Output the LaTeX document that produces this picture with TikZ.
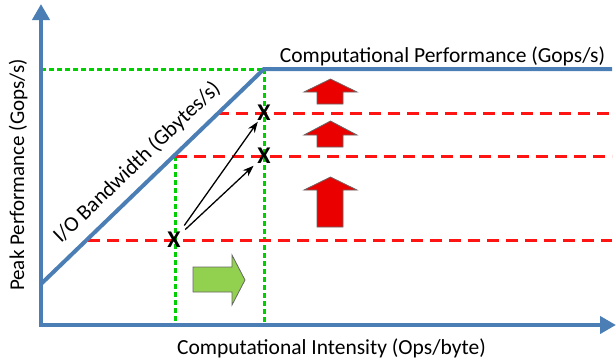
\documentclass[tikz,border=0pt]{standalone}
\usepackage{fontspec}
\setmainfont{Carlito}
\usetikzlibrary{arrows.meta}
\definecolor{axisblue}{RGB}{74,126,180}
\definecolor{dgreen}{RGB}{0,208,0}
\definecolor{dred}{RGB}{255,20,20}
\definecolor{bred}{RGB}{235,0,0}
\definecolor{lgreen}{RGB}{146,208,80}
\begin{document}
\begin{tikzpicture}[x=1pt,y=-1pt,
  axis/.style={draw=axisblue,line width=4pt,line join=miter},
  greendash/.style={draw=dgreen,line width=3pt,dash pattern=on 5pt off 3pt},
  reddash/.style={draw=dred,line width=3pt,dash pattern=on 12pt off 7pt},
  lbl/.style={font=\fontsize{21.5}{24}\selectfont,inner sep=0pt},
  xmark/.style={font=\bfseries\fontsize{24}{24}\selectfont,inner sep=0pt},
  ptr/.style={draw=black,line width=1.3pt,-{Stealth[length=11pt,width=8pt]}},
  uparrow/.style={fill=bred,draw=black!60,line width=0.8pt},
  rightarrow/.style={fill=lgreen,draw=black!60,line width=0.8pt}]
\useasboundingbox (0,0) rectangle (616,362);
% named points
\coordinate (ytop) at (41,4);
\coordinate (O) at (41,325);
\coordinate (xend) at (616,325);
\coordinate (roofstart) at (41,284);
\coordinate (ridge) at (264,69);
\coordinate (roofend) at (612,69);
\coordinate (gl) at (41,69);
\coordinate (gr) at (264,325);
\coordinate (g2top) at (175,156);
\coordinate (g2bot) at (175,325);
\coordinate (r1a) at (217,113);
\coordinate (r1b) at (612,113);
\coordinate (r2a) at (175,156);
\coordinate (r2b) at (612,156);
\coordinate (r3a) at (88,240);
\coordinate (r3b) at (612,240);
% dashed guides
\draw[greendash] (gl) -- (ridge);
\draw[greendash] (ridge) -- (gr);
\draw[greendash] (g2top) -- (g2bot);
\draw[reddash] (r1a) -- (r1b);
\draw[reddash] (r2a) -- (r2b);
\draw[reddash] (r3a) -- (r3b);
% axes
\draw[axis,{Triangle[length=16pt,width=17pt]}-{Triangle[length=16pt,width=17pt]}] (ytop) -- (O) -- (xend);
% roofline
\draw[axis] (roofstart) -- (ridge) -- (roofend);
% labels
\node[lbl,anchor=base] (toplbl) at (442.5,62) {Computational Performance (Gops/s)};
\node[lbl,anchor=base] (xlbl) at (331.5,354) {Computational Intensity (Ops/byte)};
\node[lbl,font=\fontsize{21}{24}\selectfont,anchor=base,rotate=90] (ylbl) at (24,175) {Peak Performance (Gops/s)};
\node[lbl,anchor=base west,rotate=43.9] (bwlbl) at (61,244) {I/O Bandwidth (Gbytes/s)};
% X marks
\node[xmark] (x1) at (174,240) {X};
\node[xmark] (x2) at (264,113) {X};
\node[xmark] (x3) at (264,156) {X};
\draw[ptr,shorten <=8pt,shorten >=1pt] (x1) -- (x2);
\draw[ptr,shorten <=6pt,shorten >=5pt] (x1) -- (x3);
% red up block arrows
\path[uparrow] (317,104) -- (317,92) -- (304,92) -- (330.5,79) -- (357,92) -- (343,92) -- (343,104) -- cycle;
\path[uparrow] (317,147) -- (317,135) -- (304,135) -- (330.5,121) -- (357,135) -- (343,135) -- (343,147) -- cycle;
\path[uparrow] (317,227) -- (317,190) -- (304,190) -- (330.5,177) -- (357,190) -- (343,190) -- (343,227) -- cycle;
% green right block arrow
\path[rightarrow] (193,267) -- (232,267) -- (232,255) -- (245,280) -- (232,305) -- (232,292) -- (193,292) -- cycle;
\end{tikzpicture}
\end{document}
